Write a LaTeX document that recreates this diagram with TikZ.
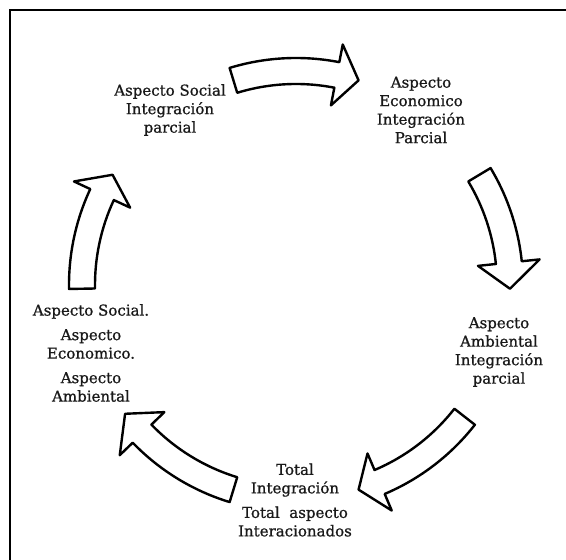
\documentclass[tikz,border=0pt]{standalone}
\usepackage{fontspec}
\setmainfont{DejaVu Serif}[FakeBold=0.9]
\usetikzlibrary{calc}
\begin{document}
\begin{tikzpicture}[
    x=1pt, y=1pt,
    font=\fontsize{15}{18.5}\selectfont,
    stage/.style={align=center, text=black!90, inner sep=0pt},
    blockarrow/.style={draw, fill=white, line width=2.4pt, line join=round}
]
    \useasboundingbox (0,0) rectangle (566,560);
    % Frame
    \draw[line width=2.5pt] (10,0) -- (10,550) -- (566,550);

    % Cycle centre
    \coordinate (c) at (296,275);

    % Stages
    \node[stage] (social) at (170,450) {Aspecto Social\\Integración\\parcial};
    \node[stage] (economico) at (421,450) {Aspecto\\Economico\\Integración\\Parcial};
    \node[stage] (ambiental) at (499,208) {Aspecto\\Ambiental\\Integración\\parcial};
    \node[stage] (total) at (295,60) {Total\\Integración\\[6pt]Total\ \ aspecto\\Interacionados};
    \node[stage] (todos) at (91,207) {Aspecto Social.\\[6pt]Aspecto\\Economico.\\[6pt]Aspecto\\Ambiental};

    % Arrows: tail / neck / tip angle
    \foreach \tail/\neck/\tip in {107/79/73, 31/6/-1, -38/-67/-73, 253/224/217, 181/155/149}
        \draw[blockarrow] ($(c)+(\tail:227pt)$) arc[start angle=\tail, end angle=\neck, radius=227pt]
            -- ($(c)+(\neck:245pt)$) -- ($(c)+(\tip:214pt)$) -- ($(c)+(\neck:183pt)$)
            -- ($(c)+(\neck:201pt)$) arc[start angle=\neck, end angle=\tail, radius=201pt] -- cycle;
\end{tikzpicture}
\end{document}
